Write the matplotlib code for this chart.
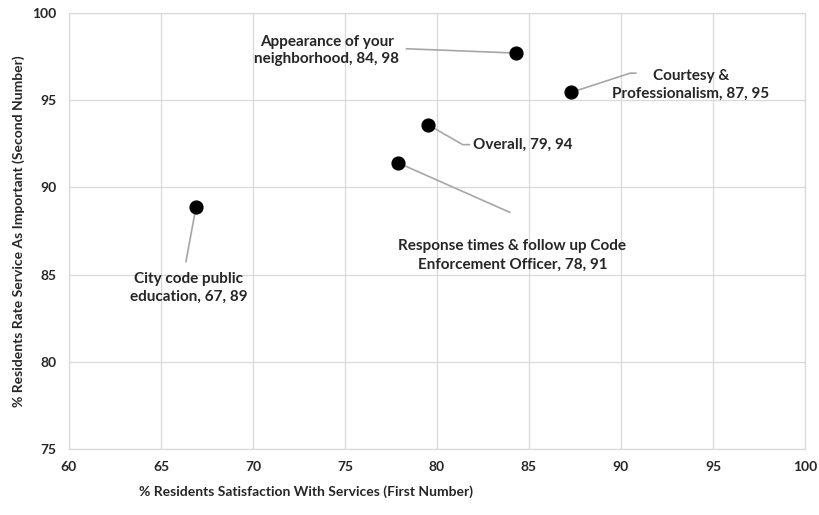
import matplotlib.pyplot as plt

plt.rcParams['font.family'] = ['Lato', 'DejaVu Sans']

# point data
names = [
    "Appearance of your\nneighborhood, 84, 98",
    "Courtesy &\nProfessionalism, 87, 95",
    "Overall, 79, 94",
    "Response times & follow up Code\nEnforcement Officer, 78, 91",
    "City code public\neducation, 67, 89",
]
satisfaction = [84.3, 87.3, 79.5, 77.9, 66.9]
importance = [97.7, 95.45, 93.6, 91.4, 88.85]

x_ticks = [60, 65, 70, 75, 80, 85, 90, 95, 100]
y_ticks = [75, 80, 85, 90, 95, 100]

# label placement (data coords): text position, alignment, leader-line end points
label_xy = [(74.0, 97.85), (93.8, 95.9), (81.95, 92.45), (84.1, 86.1), (66.5, 84.25)]
label_ha = ["center", "center", "left", "center", "center"]
leader_ends = [
    [(78.3, 97.95)],
    [(90.5, 96.55), (90.85, 96.55)],
    [(81.4, 92.45), (81.8, 92.45)],
    [(84.0, 88.55)],
    [(66.35, 85.7)],
]

fig = plt.figure(figsize=(8.2, 5.15), dpi=100)
ax = fig.add_axes([0.0841, 0.1282, 0.8976, 0.8466])

grid_c = "#d9d9d9"
txt_c = "#262626"

for i in range(len(names)):
    xs = [satisfaction[i]] + [p[0] for p in leader_ends[i]]
    ys = [importance[i]] + [p[1] for p in leader_ends[i]]
    ax.plot(xs, ys, color="#a6a6a6", lw=1.2, zorder=2, solid_capstyle="butt")
    ax.text(label_xy[i][0], label_xy[i][1], names[i], ha=label_ha[i], va="center",
            fontsize=11, fontweight="bold", color=txt_c, linespacing=1.35, zorder=4)

ax.scatter(satisfaction, importance, s=85, color="black", zorder=3)

ax.set_xlim(60, 100)
ax.set_ylim(75, 100)
ax.set_xticks(x_ticks)
ax.set_yticks(y_ticks)
ax.grid(True, color=grid_c, lw=0.9)
ax.set_axisbelow(True)
for sp in ax.spines.values():
    sp.set_color(grid_c)
    sp.set_linewidth(0.9)
ax.tick_params(length=0, pad=9, labelsize=10, labelcolor=txt_c)
for lab in ax.get_xticklabels() + ax.get_yticklabels():
    lab.set_fontweight("bold")

ax.set_ylabel("% Residents Rate Service As Important (Second Number)",
              fontsize=10, fontweight="bold", color=txt_c, labelpad=5)
fig.text(306 / 820, 1 - 492 / 515, "% Residents Satisfaction With Services (First Number)",
         ha="center", va="center", fontsize=10, fontweight="bold", color=txt_c)

fig.savefig("out.png", dpi=100)
